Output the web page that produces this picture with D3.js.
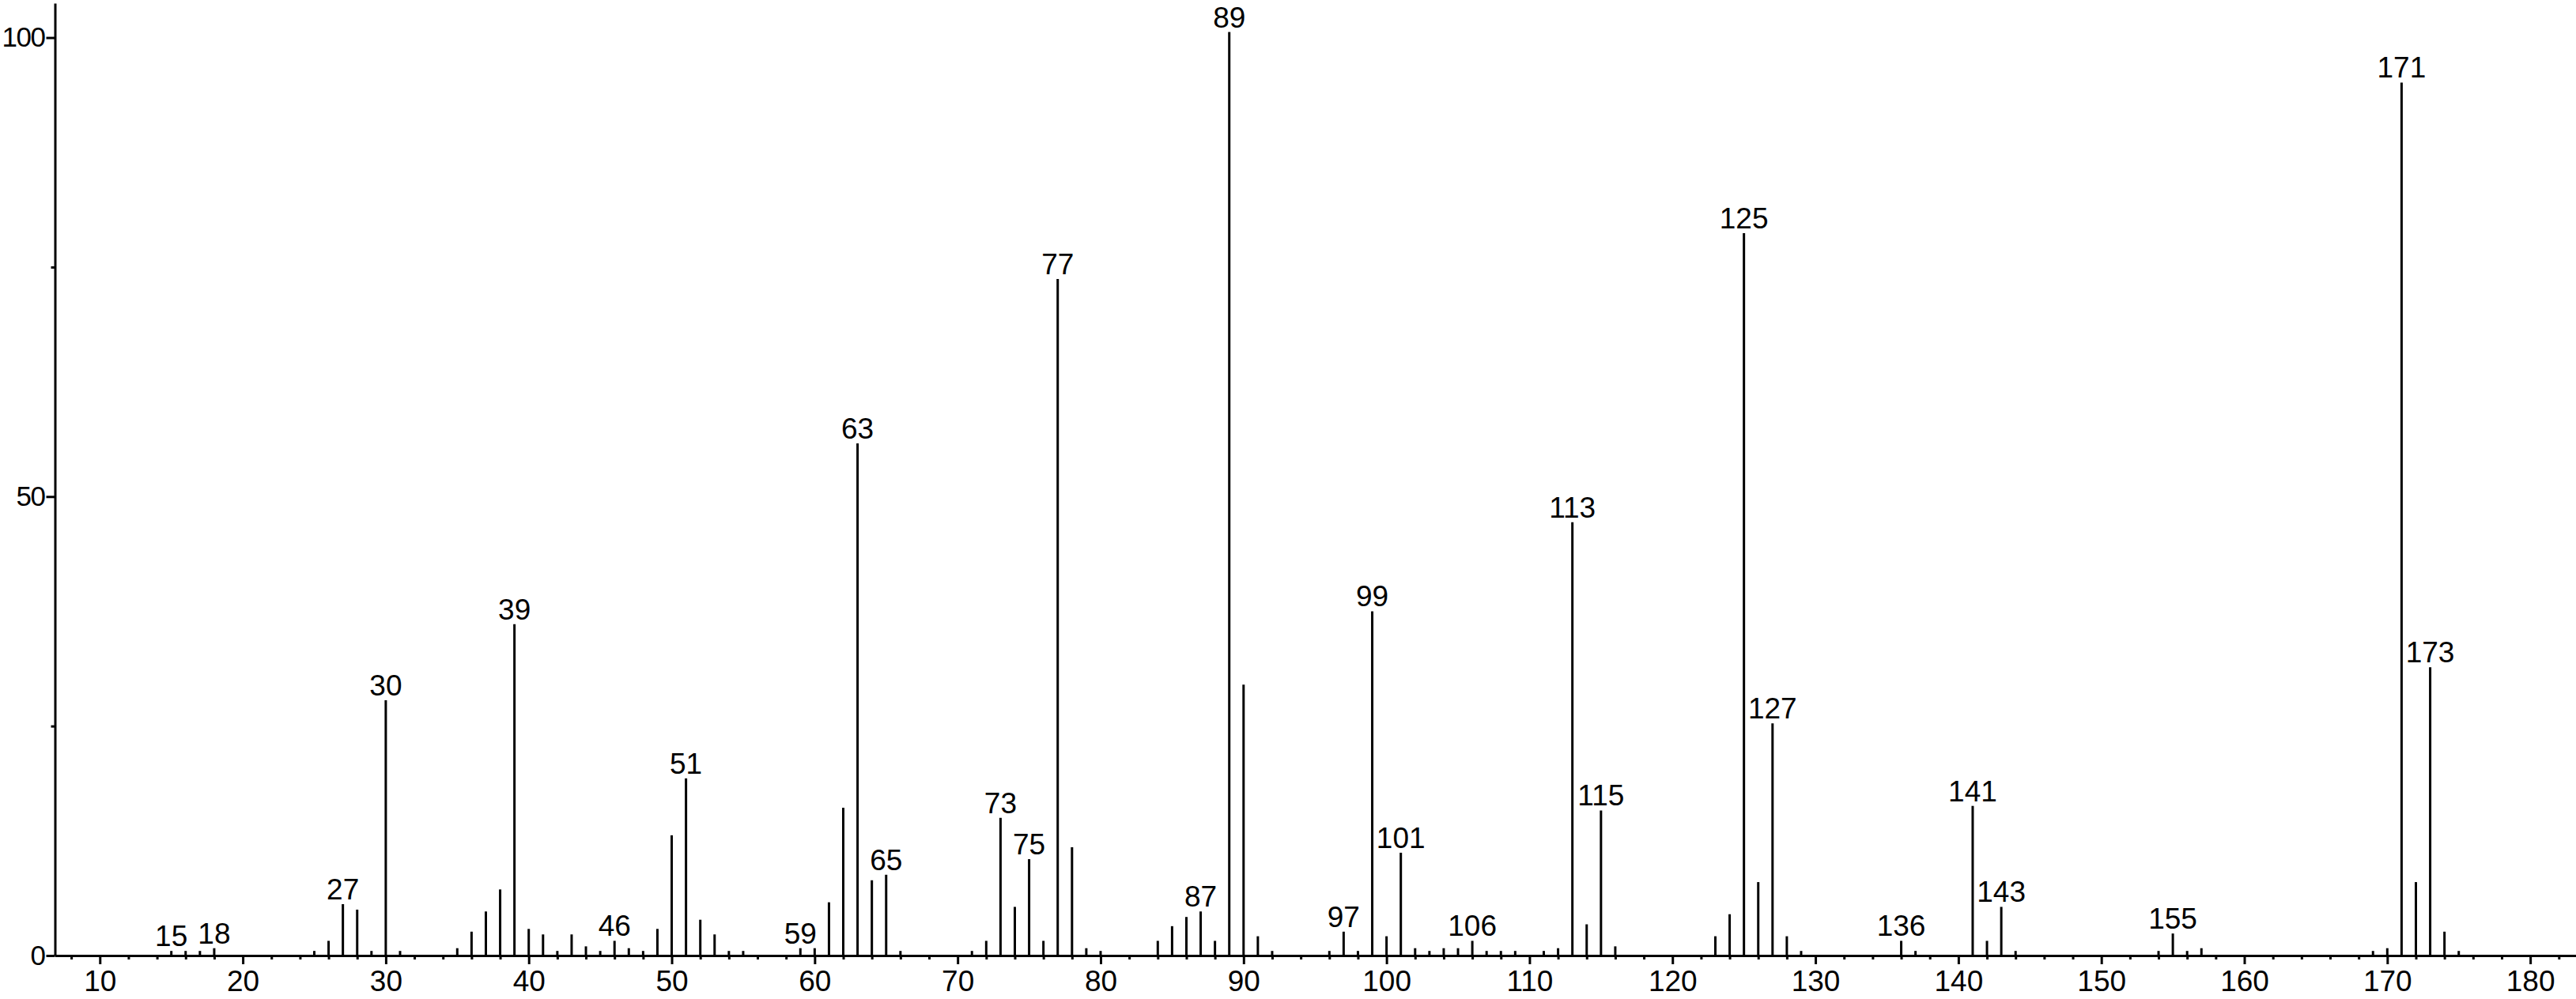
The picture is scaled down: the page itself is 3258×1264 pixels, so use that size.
<!DOCTYPE html>
<html>
<head>
<meta charset="utf-8">
<script src="https://cdn.jsdelivr.net/npm/d3@7"></script>
<style>
body { margin: 0; background: #fff; }
text { font-family: "Liberation Sans", Arial, sans-serif; fill: #000; }
</style>
</head>
<body>
<div id="chart"></div>
<script>
// m/z values and relative intensities
var mz = [15, 16, 17, 18, 25, 26, 27, 28, 29, 30, 31, 35, 36, 37, 38, 39, 40, 41, 42, 43,
    44, 45, 46, 47, 48, 49, 50, 51, 52, 53, 54, 55, 59, 60, 61, 62, 63, 64, 65, 66,
    71, 72, 73, 74, 75, 76, 77, 78, 79, 80, 84, 85, 86, 87, 88, 89, 90, 91, 92, 96,
    97, 98, 99, 100, 101, 102, 103, 104, 105, 106, 107, 108, 109, 111, 112, 113, 114, 115, 116, 123,
    124, 125, 126, 127, 128, 129, 136, 137, 141, 142, 143, 144, 154, 155, 156, 157, 169, 170, 171, 172,
    173, 174, 175];
var intensity = [0.5, 0.5, 0.5, 0.8, 0.5, 1.6, 5.6, 5.0, 0.5, 27.8, 0.5, 0.8, 2.6, 4.8, 7.2, 36.1, 2.9, 2.3, 0.5, 2.3,
    1.0, 0.5, 1.6, 0.8, 0.5, 2.9, 13.1, 19.3, 3.9, 2.3, 0.5, 0.5, 0.8, 0.8, 5.8, 16.1, 55.8, 8.2, 8.8, 0.5,
    0.5, 1.6, 15.0, 5.3, 10.5, 1.6, 73.7, 11.8, 0.8, 0.5, 1.6, 3.2, 4.2, 4.8, 1.6, 100.6, 29.5, 2.1, 0.5, 0.5,
    2.6, 0.5, 37.5, 2.1, 11.2, 0.8, 0.5, 0.8, 0.8, 1.6, 0.5, 0.5, 0.5, 0.5, 0.8, 47.2, 3.4, 15.8, 1.0, 2.1,
    4.5, 78.7, 8.0, 25.3, 2.1, 0.5, 1.6, 0.5, 16.3, 1.6, 5.3, 0.5, 0.5, 2.4, 0.5, 0.8, 0.5, 0.8, 95.1, 8.0,
    31.4, 2.6, 0.5];
var labeled = [15, 18, 27, 30, 39, 46, 51, 59, 63, 65, 73, 75, 77, 87, 89, 97, 99, 101, 106,
    113, 115, 125, 127, 136, 141, 143, 155, 171, 173];

var xTicks = d3.range(10, 181, 10);
var xMinorTicks = d3.range(8, 183, 2).filter(function (d) { return d % 10 !== 0; });
var yTicks = [0, 50, 100];
var yMinorTicks = [25, 75];

var width = 3258, height = 1264;

var svg = d3.select("#chart")
    .append("svg")
    .attr("width", width)
    .attr("height", height)
    .style("display", "block");

var x = d3.scaleLinear()
    .domain([6.86, 183.2])
    .range([69.5, 3258]);

var y = d3.scaleLinear()
    .domain([0, 103.75])
    .range([1209, 4]);

var peaks = mz.map(function (m, i) { return { mz: m, value: intensity[i] }; });

// x axis: major ticks with labels, minor ticks every 2
svg.append("g")
    .attr("class", "x axis")
    .attr("transform", "translate(0," + y(0) + ")")
    .call(d3.axisBottom(x).tickValues(xTicks).tickSize(11).tickSizeOuter(0).tickPadding(8));

svg.append("g")
    .attr("transform", "translate(0," + y(0) + ")")
    .call(d3.axisBottom(x).tickValues(xMinorTicks).tickSize(5).tickSizeOuter(0).tickFormat(""))
    .select(".domain").remove();

svg.append("g")
    .attr("class", "y axis")
    .attr("transform", "translate(" + x.range()[0] + ",0)")
    .call(d3.axisLeft(y).tickValues(yTicks).tickSize(11).tickSizeOuter(0).tickPadding(2));

svg.append("g")
    .attr("transform", "translate(" + x.range()[0] + ",0)")
    .call(d3.axisLeft(y).tickValues(yMinorTicks).tickSize(5).tickSizeOuter(0).tickFormat(""))
    .select(".domain").remove();

svg.selectAll(".domain, .tick line")
    .attr("stroke", "#000")
    .attr("stroke-width", 3);

svg.selectAll(".x.axis .tick text")
    .style("font-size", "37px");

svg.selectAll(".y.axis .tick text")
    .style("font-size", "35px")
    .style("letter-spacing", "-1.5px");

// peaks
svg.append("g")
    .selectAll("line")
    .data(peaks)
    .enter()
    .append("line")
    .attr("x1", function (d) { return x(d.mz); })
    .attr("x2", function (d) { return x(d.mz); })
    .attr("y1", y(0))
    .attr("y2", function (d) { return y(d.value); })
    .attr("stroke", "#000")
    .attr("stroke-width", 3);

// peak labels
svg.append("g")
    .selectAll("text")
    .data(peaks.filter(function (d) { return labeled.indexOf(d.mz) >= 0; }))
    .enter()
    .append("text")
    .attr("x", function (d) { return x(d.mz); })
    .attr("y", function (d) { return y(d.value) - 6; })
    .attr("text-anchor", "middle")
    .style("font-size", "37px")
    .text(function (d) { return d.mz; });
</script>
</body>
</html>
